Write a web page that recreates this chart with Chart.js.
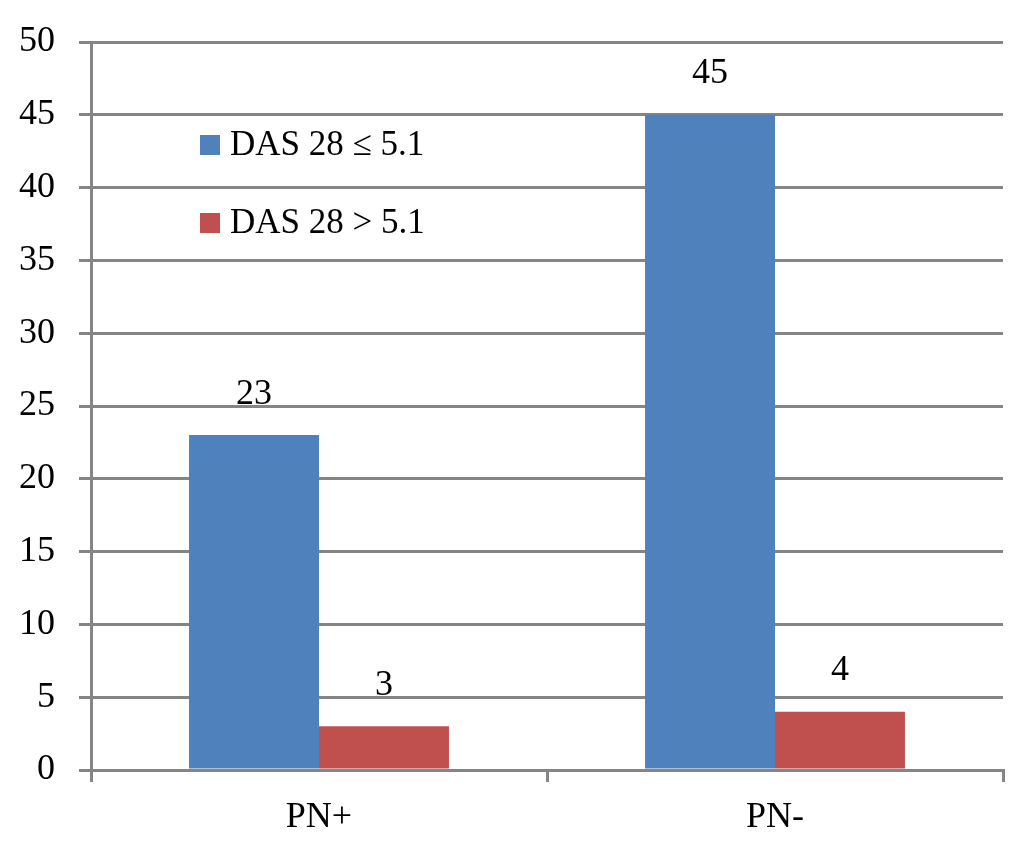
<!DOCTYPE html>
<html>
<head>
<meta charset="utf-8">
<script src="https://cdn.jsdelivr.net/npm/chart.js@4"></script>
<style>
  body { margin: 0; background: #fff; }
  #wrap { width: 1019px; height: 863px; position: relative; }
</style>
</head>
<body>
<div id="wrap"><canvas id="chart"></canvas></div>
<script>
// data
const categories = ['PN+', 'PN-'];
const seriesNames = ['DAS 28 ≤ 5.1', 'DAS 28 > 5.1'];
const lowActivity = [23, 45];
const highActivity = [3, 4];
const yTicks = [0, 5, 10, 15, 20, 25, 30, 35, 40, 45, 50];

const gridGray = '#858585';
const serif = '"Liberation Serif", "DejaVu Serif", serif';

// values printed above each bar
const valueLabels = {
  id: 'valueLabels',
  afterDatasetsDraw(chart) {
    const ctx = chart.ctx;
    ctx.save();
    ctx.fillStyle = '#000';
    ctx.font = '36px ' + serif;
    ctx.textAlign = 'center';
    ctx.textBaseline = 'middle';
    chart.data.datasets.forEach((ds, i) => {
      chart.getDatasetMeta(i).data.forEach((bar, j) => {
        ctx.fillText(String(ds.data[j]), bar.x, bar.y - 41);
      });
    });
    ctx.restore();
  }
};

// legend sits inside the plot, top left
const innerLegend = {
  id: 'innerLegend',
  afterDraw(chart) {
    const ctx = chart.ctx;
    const a = chart.chartArea;
    ctx.save();
    ctx.font = '35px ' + serif;
    ctx.textBaseline = 'middle';
    chart.data.datasets.forEach((ds, i) => {
      const top = a.top + 93 + i * 78;
      ctx.fillStyle = ds.backgroundColor;
      ctx.fillRect(a.left + 109, top, 20, 20);
      ctx.fillStyle = '#000';
      ctx.fillText(ds.label, a.left + 139, top + 11);
    });
    ctx.restore();
  }
};

new Chart(document.getElementById('chart'), {
  type: 'bar',
  data: {
    labels: categories,
    datasets: [
      { label: seriesNames[0], data: lowActivity, backgroundColor: '#4F81BD' },
      { label: seriesNames[1], data: highActivity, backgroundColor: '#C0504D' }
    ]
  },
  options: {
    responsive: true,
    maintainAspectRatio: false,
    animation: false,
    layout: { padding: { top: 42, right: 16, left: 0, bottom: 0 } },
    datasets: { bar: { categoryPercentage: 0.57, barPercentage: 1.0 } },
    plugins: {
      legend: { display: false },
      tooltip: { enabled: false }
    },
    scales: {
      x: {
        afterFit: s => { s.height = 93; },
        grid: {
          drawOnChartArea: false,
          drawTicks: true,
          tickLength: 12,
          lineWidth: 3,
          color: gridGray
        },
        border: { display: true, color: gridGray, width: 3 },
        ticks: {
          color: '#000',
          padding: 14,
          font: { family: serif, size: 36 }
        }
      },
      y: {
        min: 0,
        max: 50,
        // keep the plot box fixed, labels overflow into the margins
        afterFit: s => { s.width = 91; s.paddingTop = 0; s.paddingBottom = 0; },
        afterBuildTicks: s => { s.ticks = yTicks.map(v => ({ value: v })); },
        grid: {
          drawTicks: true,
          tickLength: 12,
          lineWidth: 3,
          color: gridGray
        },
        border: { display: true, color: gridGray, width: 3 },
        ticks: {
          color: '#000',
          padding: 24,
          font: { family: serif, size: 36 }
        }
      }
    }
  },
  plugins: [valueLabels, innerLegend]
});
</script>
</body>
</html>
